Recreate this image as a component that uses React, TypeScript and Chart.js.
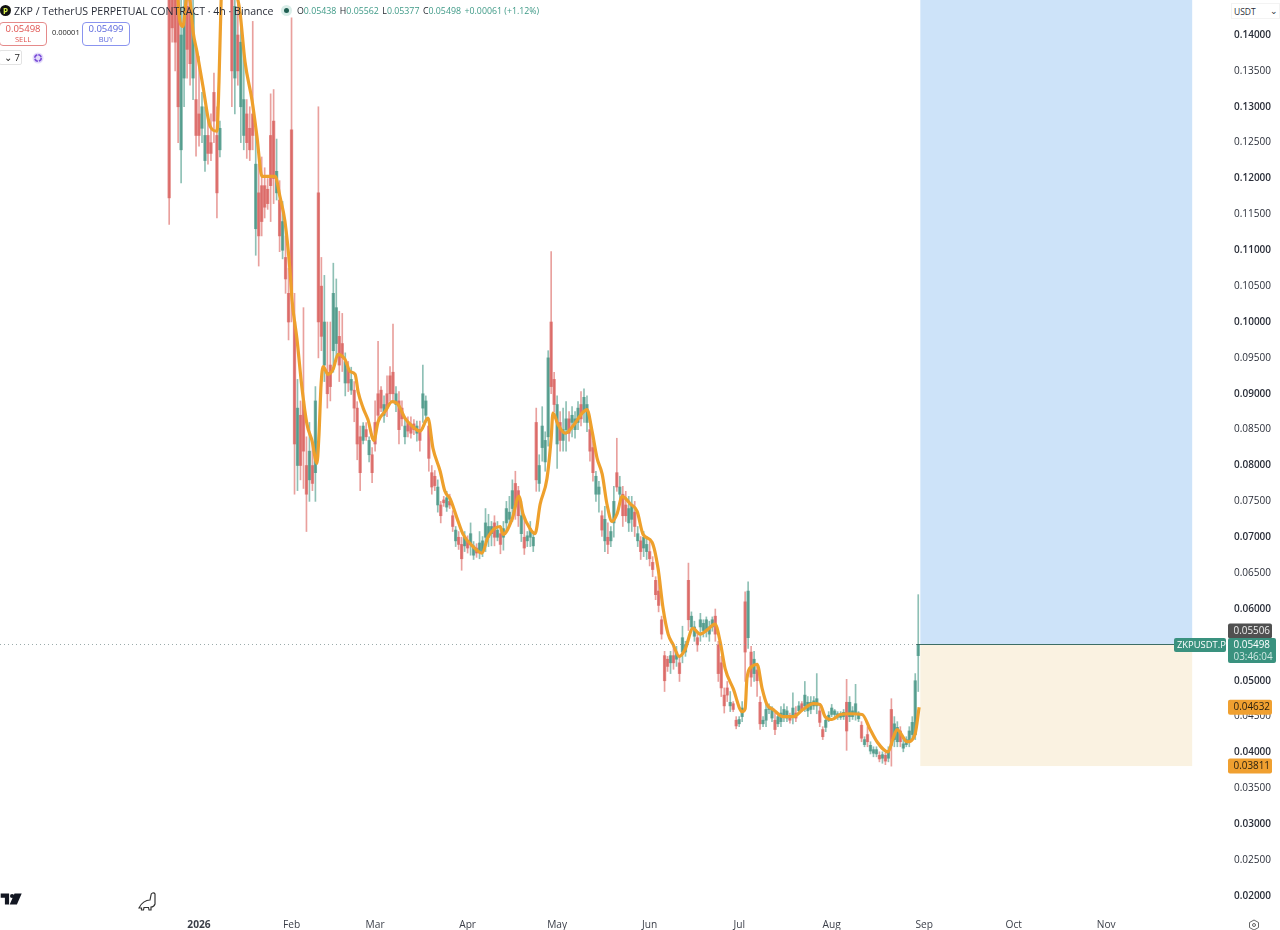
import React, { useEffect, useRef } from "react";
import { Chart, registerables } from "chart.js";

Chart.register(...registerables);

// All candle values are in units of 0.0001 USDT; one candle per reading column, starting at day -10 from 2026-01-01
const priceUnit = 0.0001;
const firstCandleDay = -10;
const highs = [1520,1500,1520,1520,1470,1480,1470,1490,1470,1380,1370,1320,1300,1280,1290,1347,1300,1280,1600,1620,1600,1520,1500,1450,1430,1380,1310,1300,1419,1270,1220,1230,1215,1200,1318,1324,1255,1197,1168,1120,1075,1424,1040,920,890,1020,840,860,830,910,1300,1090,1065,1000,1000,1082,1060,1015,1012,957,945,937,917,889,855,860,860,840,825,890,973,910,897,925,938,997,910,903,890,865,868,868,864,862,862,940,897,865,800,793,780,750,757,764,760,737,715,708,700,708,702,720,694,691,708,701,740,732,722,730,722,715,722,750,757,780,792,771,750,725,708,722,708,880,815,882,847,960,1098,930,897,875,880,889,875,882,875,889,903,907,897,862,834,792,778,737,743,720,715,771,838,785,771,764,757,757,750,715,701,708,701,694,673,645,645,590,541,534,541,548,548,534,576,555,664,596,583,569,594,585,589,583,589,600,555,534,490,499,485,471,450,450,471,624,638,548,541,520,478,450,471,468,464,455,455,464,468,464,455,483,464,471,471,499,478,478,478,510,464,436,450,457,467,460,457,457,460,502,478,464,495,457,443,422,436,415,408,408,401,401,399,408,475,450,443,436,422,422,436,450,510,620];
const lows = [1136,1390,1350,1250,1194,1300,1340,1330,1310,1231,1245,1250,1210,1220,1225,1250,1145,1230,1470,1480,1450,1300,1290,1330,1250,1240,1228,1225,1240,1093,1078,1120,1145,1157,1140,1165,1170,1098,1088,1040,975,1000,760,765,780,768,708,750,765,750,950,960,917,880,890,930,945,917,931,897,903,899,861,808,765,830,835,805,776,820,860,875,860,868,890,890,875,830,855,830,840,838,843,834,820,860,860,792,760,765,735,720,743,736,740,708,687,683,654,680,678,675,669,672,670,673,680,687,688,688,695,677,682,708,715,722,725,715,694,676,687,687,680,764,764,806,792,827,900,875,796,820,820,820,834,840,838,850,855,860,847,806,778,750,735,701,680,677,687,700,764,750,715,722,708,708,701,687,669,673,669,660,645,613,596,558,485,513,510,516,520,499,525,534,570,569,555,541,555,561,561,555,569,555,499,478,455,471,457,457,433,436,443,499,545,492,499,478,432,436,436,454,443,425,436,436,443,443,441,440,443,454,457,457,450,454,460,454,436,418,429,443,450,450,446,446,446,403,443,446,445,443,415,408,408,398,394,394,387,385,383,387,381,408,408,408,401,408,408,418,418,485];
const opens = [1500,1470,1450,1480,1240,1440,1440,1450,1430,1310,1290,1300,1260,1260,1250,1320,1260,1240,1490,1560,1530,1470,1340,1400,1390,1310,1290,1270,1290,1220,1180,1190,1190,1185,1260,1280,1210,1170,1140,1090,1040,1268,1000,880,870,890,800,820,800,790,1180,1050,1000,930,940,960,1020,980,970,945,935,920,905,880,840,855,850,835,815,860,900,905,885,900,925,930,900,890,880,855,860,855,858,855,850,880,890,855,790,785,770,745,752,755,750,730,710,700,690,700,695,690,688,685,680,695,700,715,705,720,710,705,700,720,735,740,775,765,730,700,695,700,700,860,775,825,835,840,1000,920,885,860,850,850,865,860,865,860,885,875,885,850,825,785,760,730,725,700,695,720,790,770,760,745,740,725,735,705,695,685,690,680,665,640,625,585,535,530,525,535,530,525,540,540,640,590,575,560,575,570,585,565,575,590,550,525,480,490,470,468,445,440,450,610,560,540,530,515,470,445,445,460,460,445,440,455,450,458,450,450,455,458,468,465,470,460,472,465,458,432,435,445,453,458,449,453,450,470,470,450,455,455,438,418,425,410,399,404,396,392,396,392,460,440,415,430,412,411,415,425,425,535];
const closes = [1173,1410,1390,1300,1400,1340,1380,1360,1340,1260,1260,1270,1225,1235,1235,1280,1180,1270,1560,1500,1480,1350,1440,1350,1300,1260,1250,1240,1260,1130,1120,1140,1160,1165,1190,1200,1180,1120,1100,1060,1000,1040,830,800,800,820,760,780,775,890,1000,980,940,900,910,1040,970,940,950,915,915,905,880,830,790,835,840,815,790,830,870,880,870,880,900,900,885,850,865,840,848,845,850,845,835,900,870,810,770,772,745,730,748,742,745,715,695,690,670,688,685,705,675,678,692,680,720,700,715,700,700,690,712,740,725,765,745,730,705,685,702,712,688,780,800,855,805,950,910,885,830,835,835,865,845,870,850,880,865,895,860,820,790,760,770,710,695,690,708,750,770,760,730,730,720,745,715,695,680,700,680,670,655,620,605,565,500,520,535,525,540,510,560,550,585,575,562,550,585,580,570,575,585,565,510,490,465,480,465,460,437,446,462,540,625,505,510,500,440,440,460,464,448,432,450,443,460,448,445,462,448,465,460,480,458,470,465,475,442,422,445,452,462,453,454,449,456,430,450,458,468,447,420,411,415,402,404,398,391,397,388,402,410,418,435,415,406,418,430,442,500,550];
// Candles that read green in the picture although the reading above ran top to bottom
const greenRead = [5,8,11,12,24,25,29,36,38,43,47,52,56,59,61,65,67,72,76,79,83,86,90,93,96,99,102,105,107,110,114,118,122,126,130,132,136,140,143,146,151,154,157,160,175,176,180,188,196,199,202,205,207,214,216,223,225,228,231,233,235,237,243,246];

// Moving average read at these days from 2026-01-01
const emaDays = [-7.7,-6.4,-5.4,-4,-3,-2,-0.7,1.3,3.7,6,6.7,7.4,8,10.4,12.4,13.7,15.4,17.8,19.4,21.1,25.5,27.1,28.8,30.5,31.2,32.8,34.5,36.2,37.9,39.5,40.2,40.9,41.6,43.2,44.9,46.6,48.9,50.6,52.3,53.3,55,56.6,58.6,60,62.3,64.7,66.7,69,71.4,74.1,76.7,78.4,80.8,82.4,84.1,86.5,88.5,91.8,94.8,96.9,100.9,101.9,104.9,107.2,108.6,110.9,112.6,114.3,116.6,118,118.6,120.3,122.7,125.3,128.4,130,131.7,133.4,135.1,136.7,138.4,140.1,141.8,144.4,146.8,148.8,151.8,153.8,155.5,157.2,158.8,160.9,162.9,165.5,167.9,170.6,172.9,174.6,176.3,179,182,183,183.6,185.3,187,188.7,190.3,192.4,195.7,199.1,202.4,205.8,208.1,209.8,212.1,214.8,218.2,222.2,224.9,227.2,230.9,232.6,233.9,237.3,239.9,241.3];
const emaValues = [1489,1419,1412,1454,1447,1405,1377,1329,1273,1266,1336,1447,1489,1503,1461,1433,1363,1308,1259,1203,1203,1175,1140,1071,1029,977,908,857,834,803,843,913,938,927,934,955,948,931,927,903,880,864,835,861,875,889,885,866,855,848,866,824,792,764,754,726,704,687,678,701,715,704,725,757,732,712,705,746,782,838,873,857,845,855,873,878,848,810,788,746,722,733,757,747,736,704,693,657,601,565,551,534,544,573,565,572,579,555,517,489,457,461,503,520,523,489,467,460,450,450,460,468,467,450,446,453,454,453,432,415,401,420,432,415,425,463];

const yTicks = [0.02,0.025,0.03,0.035,0.04,0.045,0.05,0.06,0.065,0.07,0.075,0.08,0.085,0.09,0.095,0.1,0.105,0.11,0.115,0.12,0.125,0.13,0.135,0.14];
const monthDays = [0,31,59,90,120,151,181,212,243,273,304];
const monthLabels = ["2026","Feb","Mar","Apr","May","Jun","Jul","Aug","Sep","Oct","Nov"];

const lastPrice = 0.05498;
const countdown = "03:46:04";
const bidBadge = 0.05506;
const emaBadge = 0.04632;
const stopPrice = 0.03811;
const boxStartDay = 241.7;
const boxEndDay = 332.8;
const symbolTag = "ZKPUSDT.P";

const RED = "rgba(214,82,80,0.68)";
const GREEN = "rgba(56,140,122,0.68)";
const WICK_RED = "rgba(218,96,92,0.6)";
const WICK_GREEN = "rgba(66,150,132,0.6)";
const FONT = "'Open Sans', 'Noto Sans', sans-serif";

const rect = (ctx: any, x: number, y: number, w: number, h: number, r: number, c: string) => {
  ctx.fillStyle = c;
  ctx.beginPath();
  ctx.roundRect(x, y, w, h, r);
  ctx.fill();
};

const regionPlugin = {
  id: "region",
  beforeDatasetsDraw(chart: any) {
    const { ctx, scales, chartArea } = chart;
    const x0 = scales.x.getPixelForValue(boxStartDay);
    const x1 = scales.x.getPixelForValue(boxEndDay);
    const yEntry = scales.y.getPixelForValue(lastPrice) - 1;
    const yStop = scales.y.getPixelForValue(stopPrice);
    ctx.save();
    ctx.fillStyle = "#cde3f9";
    ctx.fillRect(x0, chartArea.top, x1 - x0, yEntry - chartArea.top);
    ctx.fillStyle = "#faf2e1";
    ctx.fillRect(x0, yEntry, x1 - x0, yStop - yEntry);
    ctx.restore();
  },
  afterDatasetsDraw(chart: any) {
    const { ctx, scales } = chart;
    const x0 = scales.x.getPixelForValue(boxStartDay);
    const y = Math.round(scales.y.getPixelForValue(lastPrice)) - 0.5;
    ctx.save();
    ctx.lineWidth = 1;
    ctx.strokeStyle = "rgba(130,150,150,0.8)";
    ctx.setLineDash([1, 3]);
    ctx.beginPath();
    ctx.moveTo(0, y);
    ctx.lineTo(x0, y);
    ctx.stroke();
    ctx.setLineDash([]);
    ctx.strokeStyle = "#3c6e66";
    ctx.beginPath();
    ctx.moveTo(x0 - 4, y);
    ctx.lineTo(1176, y);
    ctx.stroke();
    ctx.restore();
  },
  afterDraw(chart: any) {
    const { ctx, scales } = chart;
    const py = (v: number) => scales.y.getPixelForValue(v);
    ctx.save();
    ctx.font = `9.9px ${FONT}`;
    ctx.textBaseline = "middle";
    ctx.textAlign = "left";
    const yLast = py(lastPrice);
    const badgeAt = (y: number, value: number, bg: string, fg: string) => {
      rect(ctx, 1228, y - 7.5, 44, 15, 2, bg);
      ctx.fillStyle = fg;
      ctx.fillText(value.toFixed(5), 1233.5, y + 0.5);
    };
    badgeAt(yLast - 14, bidBadge, "#505050", "#f0f0f0");
    rect(ctx, 1228, yLast - 7, 48, 25, 2, "#3a927f");
    ctx.fillStyle = "#ffffff";
    ctx.fillText(lastPrice.toFixed(5), 1233.5, yLast + 0.5);
    ctx.fillStyle = "#cfe8e2";
    ctx.fillText(countdown, 1233.5, yLast + 12);
    rect(ctx, 1174, yLast - 7, 52, 14, 2, "#3a927f");
    ctx.fillStyle = "#ffffff";
    ctx.font = `9.4px ${FONT}`;
    ctx.fillText(symbolTag, 1177, yLast + 0.5);
    ctx.font = `9.9px ${FONT}`;
    badgeAt(py(emaBadge), emaBadge, "#f0a030", "#2a2010");
    badgeAt(py(stopPrice), stopPrice, "#f0a030", "#2a2010");
    ctx.restore();
  },
};

export default function App() {
  const ref = useRef<HTMLCanvasElement>(null);
  useEffect(() => {
    const days = highs.map((_, i) => firstCandleDay + i);
    const up = closes.map((c, i) => c >= opens[i] || greenRead.includes(i));
    const noPad = (axis: any) => {
      axis.paddingTop = 0;
      axis.paddingBottom = 0;
      axis.paddingLeft = 0;
      axis.paddingRight = 0;
    };
    const chart = new Chart(ref.current as HTMLCanvasElement, {
      type: "bar",
      data: {
        datasets: [
          {
            type: "line",
            data: emaDays.map((d, i) => ({ x: d, y: emaValues[i] * priceUnit })),
            borderColor: "#eea02c",
            borderWidth: 3.2,
            pointRadius: 0,
            cubicInterpolationMode: "monotone",
            order: 0,
          },
          {
            data: days.map((d, i) => ({ x: d, y: [opens[i] * priceUnit, closes[i] * priceUnit] })),
            backgroundColor: up.map((u) => (u ? GREEN : RED)),
            barThickness: 2.6,
            grouped: false,
            order: 1,
          },
          {
            data: days.map((d, i) => ({ x: d, y: [lows[i] * priceUnit, highs[i] * priceUnit] })),
            backgroundColor: up.map((u) => (u ? WICK_GREEN : WICK_RED)),
            barThickness: 1,
            grouped: false,
            order: 2,
          },
        ] as any,
      },
      options: {
        responsive: false,
        animation: false,
        layout: { padding: 0 },
        plugins: { legend: { display: false }, tooltip: { enabled: false } },
        events: [],
        scales: {
          x: {
            type: "linear",
            offset: false,
            min: -66.69,
            max: 344.8,
            grid: { display: false, drawTicks: false },
            border: { display: false },
            afterBuildTicks: (axis: any) => {
              axis.ticks = monthDays.map((value) => ({ value }));
            },
            afterFit: (axis: any) => {
              axis.height = 18;
              noPad(axis);
            },
            ticks: {
              autoSkip: false,
              maxRotation: 0,
              padding: 7,
              color: "#3a3e48",
              font: (c: any) => ({ family: FONT, size: 10.2, weight: c.tick && c.tick.value === 0 ? "700" : "400" }),
              callback: (v: any) => monthLabels[monthDays.indexOf(v)],
            },
          },
          y: {
            position: "right",
            min: 0.01777,
            max: 0.14488,
            grid: { display: false, drawTicks: false },
            border: { display: false },
            afterBuildTicks: (axis: any) => {
              axis.ticks = yTicks.map((value) => ({ value }));
            },
            afterFit: (axis: any) => {
              axis.width = 52;
              noPad(axis);
            },
            ticks: {
              autoSkip: false,
              padding: 6,
              color: "#2a2e39",
              font: (c: any) => {
                const major = c.tick && Math.round(c.tick.value * 1000) % 10 === 0;
                return { family: FONT, size: 10, weight: major ? "600" : "400" };
              },
              callback: (v: any) => Number(v).toFixed(5),
            },
          },
        },
      } as any,
      plugins: [regionPlugin],
    } as any);
    return () => chart.destroy();
  }, []);

  const abs = (left: number, top: number, extra: any = {}) => ({ position: "absolute", left, top, whiteSpace: "nowrap", ...extra });
  const g = "#3f9a87";
  const seg = (k: string, v: string) => (
    <span style={{ marginRight: 3.5 }}>
      <span style={{ color: "#1d2129" }}>{k}</span>
      {v}
    </span>
  );
  return (
    <div style={{ position: "absolute", left: 0, top: 0, width: 1280, height: 930, overflow: "hidden", background: "#fff", fontFamily: FONT }}>
      <canvas ref={ref} width={1280} height={930} style={{ position: "absolute", left: 0, top: 0 }} />
      <div style={abs(0, 5, { width: 11, height: 11, borderRadius: 6, background: "#111", color: "#d8f04a", fontSize: 8, lineHeight: "11px", textAlign: "center", fontWeight: 700 })}>P</div>
      <div style={abs(14, 3, { fontSize: 10.6, lineHeight: "16px", color: "#2a2e39" })}>ZKP / TetherUS PERPETUAL CONTRACT · 4h · Binance</div>
      <div style={abs(281, 5, { width: 11, height: 11, borderRadius: 6, background: "#d9ede8" })} />
      <div style={abs(284, 8, { width: 5, height: 5, borderRadius: 3, background: "#1f5f52" })} />
      <div style={abs(297, 4, { fontSize: 8.8, lineHeight: "14px", color: g })}>
        {seg("O", "0.05438")}
        {seg("H", "0.05562")}
        {seg("L", "0.05377")}
        {seg("C", "0.05498")}
        <span>+0.00061 (+1.12%)</span>
      </div>
      <div style={abs(-1, 22, { width: 46, height: 22, border: "1px solid #e58a8a", borderRadius: 4, background: "#fff", textAlign: "center", color: "#e0524f", fontSize: 9.5, lineHeight: "11px" })}>
        0.05498
        <div style={{ fontSize: 7.5, lineHeight: "10px" }}>SELL</div>
      </div>
      <div style={abs(52, 27, { fontSize: 7.5, lineHeight: "11px", color: "#222" })}>0.00001</div>
      <div style={abs(82, 22, { width: 46, height: 22, border: "1px solid #8a94ef", borderRadius: 4, background: "#fff", textAlign: "center", color: "#5a66dd", fontSize: 9.5, lineHeight: "11px" })}>
        0.05499
        <div style={{ fontSize: 7.5, lineHeight: "10px" }}>BUY</div>
      </div>
      <div style={abs(-1, 50, { width: 20, height: 13, border: "1px solid #e3e3e3", borderRadius: 2, fontSize: 9.5, lineHeight: "13px", color: "#222", textAlign: "right", paddingRight: 1, boxSizing: "content-box" })}>⌄ 7</div>
      <svg style={abs(32, 52)} width={12} height={12} viewBox="0 0 12 12">
        <circle cx="6" cy="6" r="5.5" fill="#e4dcfa" />
        <circle cx="6" cy="6" r="3.2" fill="none" stroke="#7b4fd8" strokeWidth="1.6" strokeDasharray="4 1" />
      </svg>
      <div style={abs(1231, 3, { width: 49, height: 16, background: "#fff", fontSize: 8.5, lineHeight: "16px", color: "#2a2e39", paddingLeft: 2, boxSizing: "border-box", border: "1px solid #f3f3f3" })}>
        USDT<span style={{ position: "absolute", left: 38, top: -1 }}>⌄</span>
      </div>
      <svg style={abs(0, 893)} width={23} height={12} viewBox="0 0 36 20">
        <path d="M0 1h14v18H7V8H0z M15 19 L23 1 H35 L27 19 z" fill="#131722" />
        <circle cx="19" cy="5" r="3.5" fill="#131722" />
      </svg>
      <svg style={abs(138, 891)} width={20} height={22} viewBox="0 0 20 22" fill="none" stroke="#333" strokeWidth="1.2">
        <path d="M1 17 C3 12 8 9 12 9 L13 4 C13 2 16 1 17 3 L17 13 C16 16 14 16 13 16 L13 19 H11 L10.5 16.5 H6 L5.5 19 H3.5 L3.5 17 Z" />
      </svg>
      <svg style={abs(1248, 919)} width={12} height={12} viewBox="0 0 12 12" fill="none" stroke="#555">
        <path d="M6 1 L10.5 3.5 V8.5 L6 11 L1.5 8.5 V3.5 Z" strokeWidth="0.9" />
        <circle cx="6" cy="6" r="1.5" strokeWidth="0.9" />
      </svg>
    </div>
  );
}
